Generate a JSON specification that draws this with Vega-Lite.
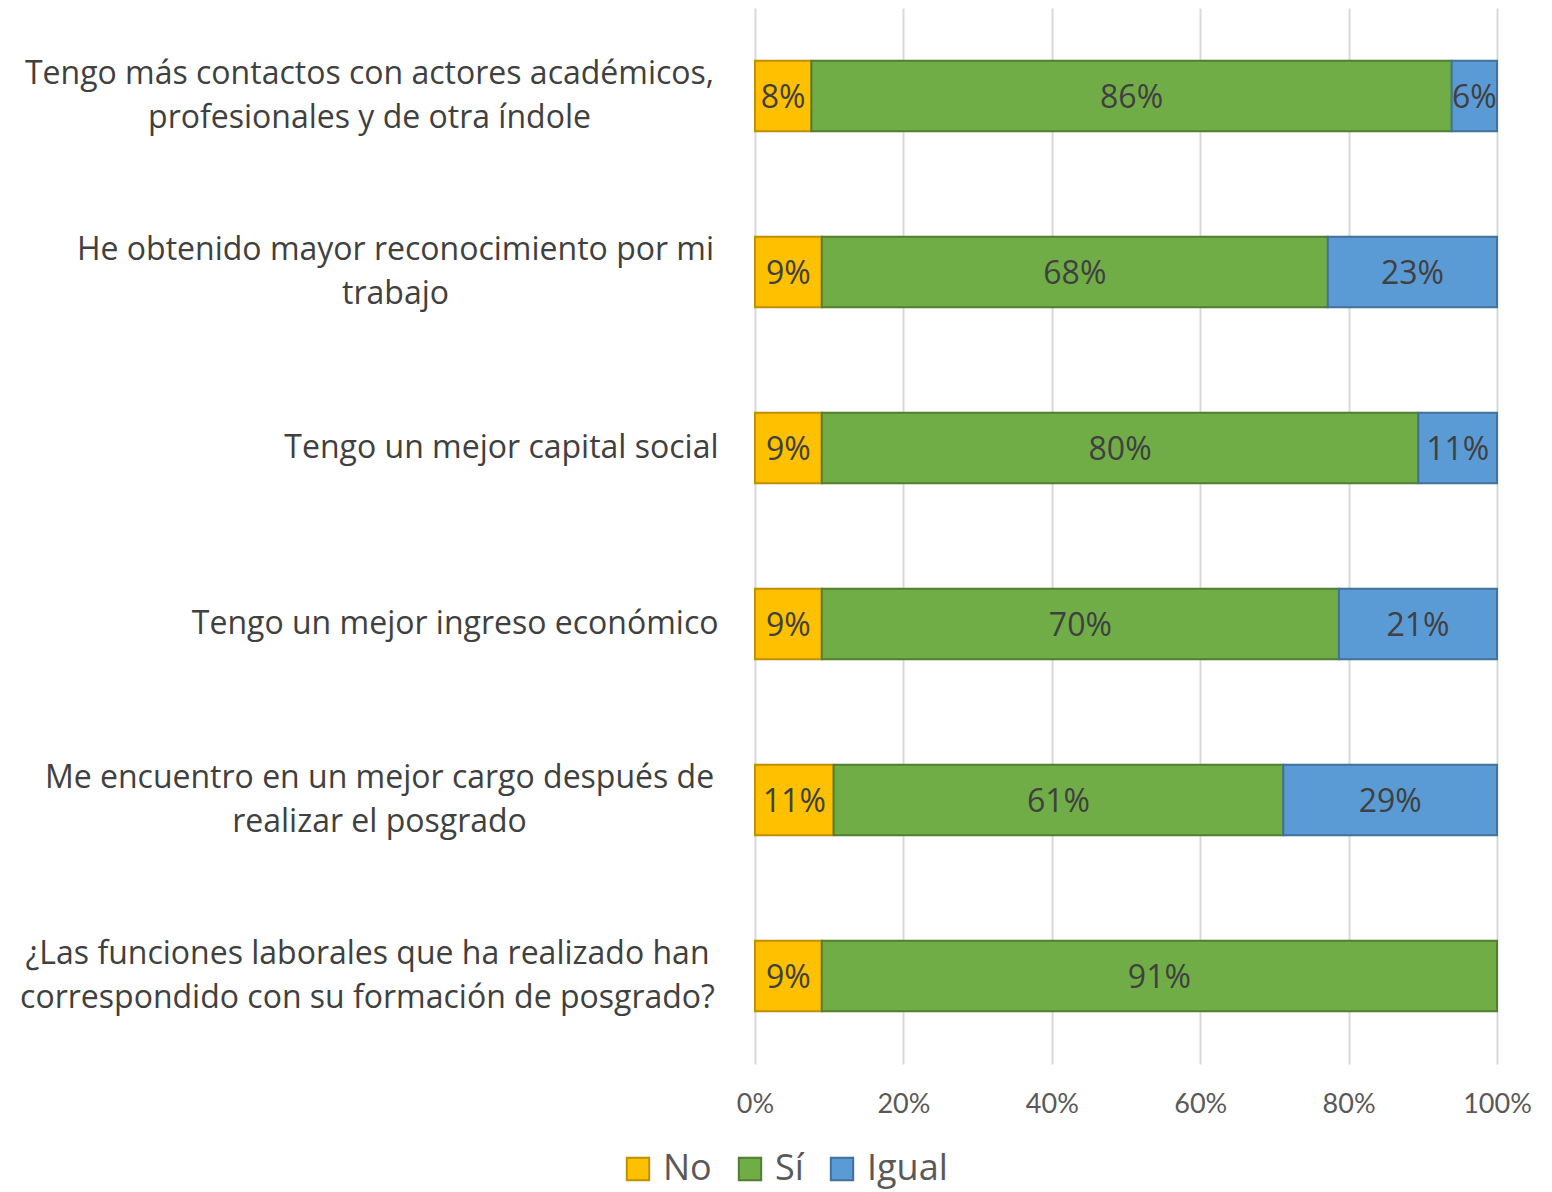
{
  "$schema": "https://vega.github.io/schema/vega-lite/v6.json",
  "autosize": "none",
  "padding": {"left": 755, "top": 8, "right": 55, "bottom": 128},
  "width": 742,
  "height": 1056,
  "background": "white",
  "config": {"view": {"stroke": null}, "font": "Open Sans"},
  "data": {"values": [
    {"row": 1, "item": "Tengo más contactos con actores académicos,|profesionales y de otra índole", "resp": "No", "ord": 1, "value": 0.076},
    {"row": 1, "item": "Tengo más contactos con actores académicos,|profesionales y de otra índole", "resp": "Sí", "ord": 2, "value": 0.863},
    {"row": 1, "item": "Tengo más contactos con actores académicos,|profesionales y de otra índole", "resp": "Igual", "ord": 3, "value": 0.061},
    {"row": 2, "item": "He obtenido mayor reconocimiento por mi|trabajo", "resp": "No", "ord": 1, "value": 0.09},
    {"row": 2, "item": "He obtenido mayor reconocimiento por mi|trabajo", "resp": "Sí", "ord": 2, "value": 0.682},
    {"row": 2, "item": "He obtenido mayor reconocimiento por mi|trabajo", "resp": "Igual", "ord": 3, "value": 0.228},
    {"row": 3, "item": "Tengo un mejor capital social", "resp": "No", "ord": 1, "value": 0.09},
    {"row": 3, "item": "Tengo un mejor capital social", "resp": "Sí", "ord": 2, "value": 0.804},
    {"row": 3, "item": "Tengo un mejor capital social", "resp": "Igual", "ord": 3, "value": 0.106},
    {"row": 4, "item": "Tengo un mejor ingreso económico", "resp": "No", "ord": 1, "value": 0.09},
    {"row": 4, "item": "Tengo un mejor ingreso económico", "resp": "Sí", "ord": 2, "value": 0.697},
    {"row": 4, "item": "Tengo un mejor ingreso económico", "resp": "Igual", "ord": 3, "value": 0.213},
    {"row": 5, "item": "Me encuentro en un mejor cargo después de|realizar el posgrado", "resp": "No", "ord": 1, "value": 0.106},
    {"row": 5, "item": "Me encuentro en un mejor cargo después de|realizar el posgrado", "resp": "Sí", "ord": 2, "value": 0.606},
    {"row": 5, "item": "Me encuentro en un mejor cargo después de|realizar el posgrado", "resp": "Igual", "ord": 3, "value": 0.288},
    {"row": 6, "item": "¿Las funciones laborales que ha realizado han|correspondido con su formación de posgrado?", "resp": "No", "ord": 1, "value": 0.09},
    {"row": 6, "item": "¿Las funciones laborales que ha realizado han|correspondido con su formación de posgrado?", "resp": "Sí", "ord": 2, "value": 0.91}
  ]},
  "transform": [
    {"stack": "value", "groupby": ["item"], "sort": [{"field": "ord"}], "as": ["v0", "v1"]},
    {"calculate": "(datum.v0 + datum.v1) / 2", "as": "mid"}
  ],
  "encoding": {
    "y": {
      "field": "item", "type": "nominal", "sort": {"field": "row", "op": "min"},
      "scale": {"paddingInner": 0.6, "paddingOuter": 0.3},
      "axis": {
        "title": null, "domain": false, "ticks": false,
        "labelExpr": "split(datum.value, '|')",
        "labelFont": "Open Sans", "labelFontSize": 32, "labelColor": "#404040",
        "labelLimit": 760, "labelLineHeight": 44,
        "labelAlign": {"condition": {"test": "indexof(datum.value, '|') >= 0", "value": "center"}, "value": "right"},
        "labelOffset": {"condition": {"test": "indexof(datum.value, '|') >= 0", "value": -22}, "value": 0},
        "labelPadding": {"condition": [
          {"test": "indexof(datum.value, 'contactos') >= 0", "value": 386},
          {"test": "indexof(datum.value, 'reconocimiento') >= 0", "value": 360},
          {"test": "indexof(datum.value, 'cargo') >= 0", "value": 376},
          {"test": "indexof(datum.value, 'funciones') >= 0", "value": 388}
        ], "value": 37}
      }
    }
  },
  "layer": [
    {
      "mark": {"type": "bar", "strokeWidth": 2},
      "encoding": {
        "x": {"field": "v0", "type": "quantitative", "scale": {"domain": [0, 1], "nice": false},
          "axis": {"title": null, "format": ".0%", "values": [0, 0.2, 0.4, 0.6, 0.8, 1], "domain": false, "ticks": false,
            "grid": true, "gridColor": "#D9D9D9", "gridWidth": 2, "labelFlush": false,
            "labelFont": "Lato", "labelFontSize": 27, "labelColor": "#595959", "labelPadding": 27}},
        "x2": {"field": "v1"},
        "color": {"field": "resp", "type": "nominal",
          "scale": {"domain": ["No", "Sí", "Igual"], "range": ["#FFC000", "#70AD47", "#5B9BD5"]},
          "legend": {"title": null, "orient": "none", "direction": "horizontal", "legendX": -135, "legendY": 1143,
            "symbolType": "square", "symbolSize": 500, "symbolStrokeWidth": 2, "symbolOpacity": 1,
            "labelFont": "Open Sans", "labelFontSize": 36, "labelColor": "#595959", "labelOffset": 7, "columnPadding": 20}},
        "stroke": {"field": "resp", "type": "nominal",
          "scale": {"domain": ["No", "Sí", "Igual"], "range": ["#BF9000", "#507E32", "#41719C"]},
          "legend": {"title": null, "orient": "none", "direction": "horizontal", "legendX": -135, "legendY": 1143,
            "symbolType": "square", "symbolSize": 500, "symbolStrokeWidth": 2, "symbolOpacity": 1,
            "labelFont": "Open Sans", "labelFontSize": 36, "labelColor": "#595959", "labelOffset": 7, "columnPadding": 20}},
        "order": {"field": "ord"}
      }
    },
    {
      "mark": {"type": "text", "font": "Open Sans", "fontSize": 32, "color": "#404040", "align": "center", "baseline": "middle", "dy": 2},
      "encoding": {
        "x": {"field": "mid", "type": "quantitative"},
        "text": {"field": "value", "type": "quantitative", "format": ".0%"}
      }
    }
  ]
}
